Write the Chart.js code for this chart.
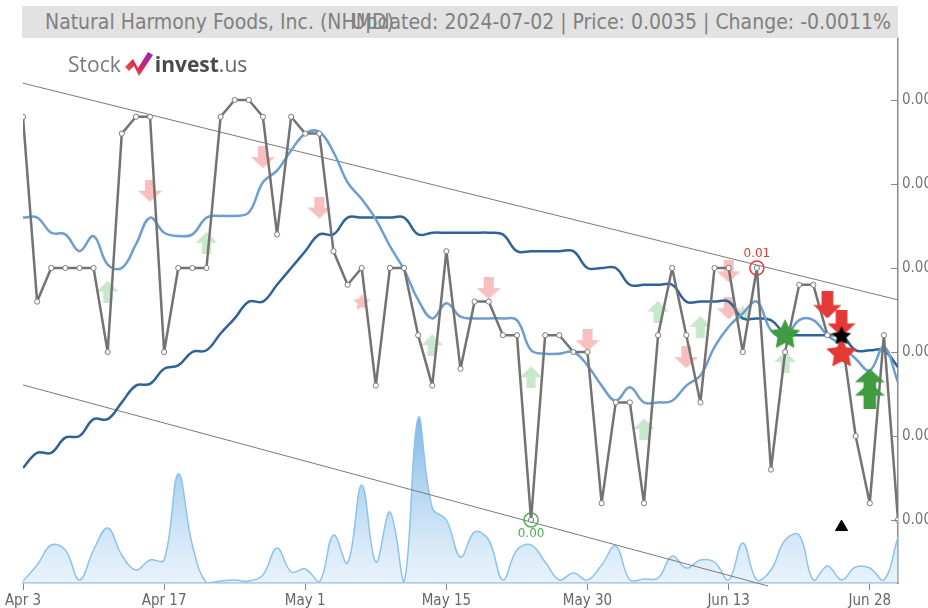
<!DOCTYPE html>
<html>
<head>
<meta charset="utf-8">
<script src="https://cdn.jsdelivr.net/npm/chart.js@4.4.1/dist/chart.umd.min.js"></script>
<style>
  html, body { margin: 0; padding: 0; background: #fff; }
  #wrap { position: relative; width: 928px; height: 608px; overflow: hidden; }
  #c { position: absolute; left: 0; top: 0; }
  #title { position: absolute; left: 22px; top: 6px; width: 876px; height: 32px; background: #e2e2e2;
           font-family: 'Liberation Sans Narrow', 'DejaVu Sans Condensed', sans-serif; font-size: 21px;
           color: #808080; line-height: 32px; }
  #title span { position: absolute; top: 0; white-space: nowrap; }
  #title .l { left: 23px; }
  #title .r { right: 7px; }
  #logo { position: absolute; left: 68px; top: 50px; height: 28px; font-family: 'Open Sans', sans-serif;
          font-size: 21px; line-height: 28px; white-space: nowrap; }
  #logo .s { color: #7a7a7a; }
  #logo .i { color: #4a4a4a; font-weight: bold; }
  #logo .u { color: #666; }
  #logo svg { vertical-align: -5px; margin: 0 1px 0 3px; }
</style>
</head>
<body>
<div id="wrap">
  <canvas id="c" width="928" height="608"></canvas>
  <div id="title"><span class="l">Natural Harmony Foods, Inc. (NHMD)</span><span class="r">Updated: 2024-07-02 | Price: 0.0035 | Change: -0.0011%</span></div>
  <div id="logo"><span class="s">Stock</span><svg width="30" height="26" viewBox="0 0 30 26">
    <defs><linearGradient id="lg" x1="0" y1="1" x2="1" y2="0"><stop offset="0" stop-color="#f07a28"/><stop offset="0.45" stop-color="#d8245a"/><stop offset="1" stop-color="#8b2bc9"/></linearGradient></defs>
    <polygon points="1,16 9,8 14,17 24,1 29,4 15,25 10,15 5,20" fill="url(#lg)"/>
  </svg><span class="i">invest</span><span class="u">.us</span></div>
</div>
<script>
//----------------------------------DATA-----------------------------------------------------------

const dates = ['Apr 3','Apr 4','Apr 5','Apr 8','Apr 9','Apr 10','Apr 11','Apr 12','Apr 15','Apr 16',
  'Apr 17','Apr 18','Apr 19','Apr 22','Apr 23','Apr 24','Apr 25','Apr 26','Apr 29','Apr 30',
  'May 1','May 2','May 3','May 6','May 7','May 8','May 9','May 10','May 13','May 14',
  'May 15','May 16','May 17','May 20','May 21','May 22','May 23','May 24','May 28','May 29',
  'May 30','May 31','Jun 3','Jun 4','Jun 5','Jun 6','Jun 7','Jun 10','Jun 11','Jun 12',
  'Jun 13','Jun 14','Jun 17','Jun 18','Jun 20','Jun 21','Jun 24','Jun 25','Jun 26','Jun 27',
  'Jun 28','Jul 1','Jul 2']

const closePrice = [0.0059,0.0048,0.0050,0.0050,0.0050,0.0050,0.0045,0.0058,0.0059,0.0059,
  0.0045,0.0050,0.0050,0.0050,0.0059,0.0060,0.0060,0.0059,0.0052,0.0059,
  0.0058,0.0058,0.0051,0.0049,0.0050,0.0043,0.0050,0.0050,0.0046,0.0043,
  0.0051,0.0044,0.0048,0.0048,0.0046,0.0046,0.0035,0.0046,0.0046,0.0045,
  0.0045,0.0036,0.0042,0.0042,0.0036,0.0046,0.0050,0.0046,0.0042,0.0050,
  0.0050,0.0045,0.0050,0.0038,0.0045,0.0049,0.0049,0.0046,0.0046,0.0040,
  0.0036,0.0046,0.0035]

const maShort = [0.00530,0.00530,0.00521,0.00520,0.00510,0.00519,0.00502,0.00500,0.00514,0.00530,
  0.00521,0.00519,0.00520,0.00530,0.00531,0.00531,0.00533,0.00551,0.00558,0.00570,
  0.00580,0.00581,0.00569,0.00551,0.00541,0.00529,0.00513,0.00499,0.00481,0.00470,
  0.00479,0.00471,0.00470,0.00470,0.00470,0.00469,0.00451,0.00449,0.00449,0.00450,
  0.00442,0.00430,0.00421,0.00429,0.00420,0.00420,0.00421,0.00430,0.00436,0.00453,
  0.00465,0.00473,0.00480,0.00463,0.00459,0.00469,0.00469,0.00460,0.00454,0.00446,
  0.00439,0.00453,0.00432]

const maLong = [0.00381,0.00390,0.00390,0.00399,0.00400,0.00410,0.00410,0.00420,0.00430,0.00431,
  0.00440,0.00442,0.00450,0.00451,0.00461,0.00470,0.00480,0.00480,0.00490,0.00500,
  0.00510,0.00520,0.00520,0.00530,0.00530,0.00530,0.00530,0.00530,0.00520,0.00521,
  0.00521,0.00521,0.00521,0.00521,0.00520,0.00510,0.00510,0.00510,0.00510,0.00510,
  0.00500,0.00500,0.00500,0.00490,0.00490,0.00490,0.00490,0.00480,0.00480,0.00480,
  0.00480,0.00470,0.00470,0.00469,0.00461,0.00460,0.00460,0.00460,0.00460,0.00451,
  0.00451,0.00451,0.00441]

// volume in millions of shares
const volume = [0.4,3.6,7.6,6.6,0.6,6.6,11,5.6,2.6,4.6,
  4.6,21.8,7.6,0,0.4,0.6,0.4,1.6,7,2.2,
  2.8,0.2,9.6,4,19.6,4.2,14.2,0.2,33,15,
  12.6,5.2,10.2,8.6,0.6,6.6,7.6,4.2,0.6,2,
  0.6,3.6,7.4,0.6,0.8,1,5.4,3,4.6,4.2,
  0.6,8,0.6,2.6,8.6,9.6,0.6,3.4,0.6,3.2,
  3,0.6,9.2]

const yTicks = [0.0035,0.004,0.0045,0.005,0.0055,0.006]
const xTickIdx = [0,10,20,30,40,50,60]

// trend channel ends [index, price]
const trendUpper = [[0,0.0061],[62,0.00481]]
const trendLower = [[0,0.004304],[52.8,0.003107]]

// signal markers [index, price]
const buyFaint = [[6,0.00486],[13,0.00515],[29,0.00454],[36,0.00435],[44,0.00404],[45,0.00474],[48,0.00465],[54,0.00444]]
const sellFaint = [[9,0.00546],[17,0.00566],[21,0.00536],[33,0.00488],[40,0.00457],[47,0.00447],[50,0.00498],[50,0.00476]]
const sellStarFaint = [[24,0.00480]]
const buyStarFaint = [[51,0.00473]]
const buyStar = [[54,0.00461]]
const buyArrows = [[60,0.00432],[60,0.00424]]
const sellArrows = [[57,0.00478],[58,0.00467]]
const sellStar = [[58,0.00450]]
const blackStar = [[58,0.00460]]
const blackTriangle = [[58,0.003458]]
const lowMark = [[36,0.0035]]
const highMark = [[52,0.0050]]

//----------------------------------SHAPES-----------------------------------------------------------

function makeArrow(color, w, h, down){
    let c = document.createElement('canvas')
    c.width = w; c.height = h
    let g = c.getContext('2d')
    if(down){ g.translate(0, h); g.scale(1, -1) }
    let head = h * 0.5, sh = w * 0.42
    g.fillStyle = color
    g.beginPath()
    g.moveTo(w/2, 0); g.lineTo(w, head); g.lineTo(w/2 + sh/2, head); g.lineTo(w/2 + sh/2, h)
    g.lineTo(w/2 - sh/2, h); g.lineTo(w/2 - sh/2, head); g.lineTo(0, head)
    g.closePath(); g.fill()
    return c
}

function makeStar(color, r){
    let c = document.createElement('canvas')
    c.width = c.height = Math.ceil(r * 2 + 2)
    let g = c.getContext('2d')
    let cx = c.width / 2, cy = c.height / 2 + r * 0.1
    g.fillStyle = color
    g.beginPath()
    for(let k = 0; k < 10; k++){
        let rr = k % 2 ? r * 0.5 : r
        let a = -Math.PI / 2 + k * Math.PI / 5
        g.lineTo(cx + rr * Math.cos(a), cy + rr * Math.sin(a))
    }
    g.closePath(); g.fill()
    return c
}

const toPts = (arr) => arr.map(p => ({x: p[0], y: p[1]}))
const series = (arr) => arr.map((v, i) => ({x: i, y: v}))

function marker(pairs, style){
    return {data: toPts(pairs), showLine: false, pointStyle: style, pointRadius: 10, pointHoverRadius: 10, yAxisID: 'y'}
}

//----------------------------------CHART-----------------------------------------------------------

const extraDraw = {
    id: 'extraDraw',
    afterDraw(chart){
        let ctx = chart.ctx
        let y = chart.scales.y
        ctx.save()
        ctx.strokeStyle = '#8a8a8a'
        ctx.lineWidth = 1
        y.ticks.forEach(t => {
            let py = Math.round(y.getPixelForValue(t.value)) + 0.5
            ctx.beginPath(); ctx.moveTo(y.left - 7, py); ctx.lineTo(y.left, py); ctx.stroke()
        })
        ctx.font = '12px "DejaVu Sans", sans-serif'
        ctx.textAlign = 'center'
        let lo = chart.getDatasetMeta(7).data[0]
        ctx.fillStyle = '#4caf50'
        ctx.textBaseline = 'top'
        ctx.fillText(lowMark[0][1].toFixed(2), lo.x, lo.y + 8)
        let hi = chart.getDatasetMeta(8).data[0]
        ctx.fillStyle = '#e53935'
        ctx.textBaseline = 'bottom'
        ctx.fillText(highMark[0][1].toFixed(2), hi.x, hi.y - 8)
        ctx.restore()
    }
}

const tickFont = {family: "'Liberation Sans Narrow', 'DejaVu Sans Condensed', sans-serif", size: 15}

new Chart(document.getElementById('c'), {
    type: 'line',
    data: {
        datasets: [
            marker(blackStar, makeStar('#000', 10)),
            {...marker(blackTriangle, 'triangle'), pointRadius: 7, pointBackgroundColor: '#000', pointBorderColor: '#000'},
            marker(sellStar, makeStar('#e53935', 16)),
            marker(sellArrows, makeArrow('#e53935', 28, 27, true)),
            marker(buyStar, makeStar('#3f9c3f', 16)),
            marker(buyArrows, makeArrow('#3f9c3f', 30, 27, false)),
            {data: series(closePrice), borderColor: '#737373', borderWidth: 2.5, tension: 0, borderJoinStyle: 'round',
             pointRadius: 2.6, pointBackgroundColor: '#fff', pointBorderColor: '#7a7a7a', pointBorderWidth: 1, yAxisID: 'y'},
            {...marker(lowMark, 'circle'), pointRadius: 7, pointBackgroundColor: 'rgba(0,0,0,0)', pointBorderColor: '#4caf50', pointBorderWidth: 1.5},
            {...marker(highMark, 'circle'), pointRadius: 7, pointBackgroundColor: 'rgba(0,0,0,0)', pointBorderColor: '#e53935', pointBorderWidth: 1.5},
            {data: series(maShort), borderColor: '#6c9ed0', borderWidth: 2.5, tension: 0.4, pointRadius: 0, yAxisID: 'y'},
            {data: series(maLong), borderColor: '#2e6399', borderWidth: 2.5, tension: 0.4, pointRadius: 0, yAxisID: 'y'},
            marker(buyFaint, makeArrow('rgba(76,175,80,0.3)', 22, 22, false)),
            marker(sellFaint, makeArrow('rgba(229,57,53,0.32)', 24, 22, true)),
            marker(sellStarFaint, makeStar('rgba(229,57,53,0.32)', 9)),
            marker(buyStarFaint, makeStar('rgba(76,175,80,0.3)', 9)),
            {data: toPts(trendUpper), borderColor: '#7a7a7a', borderWidth: 1, pointRadius: 0, yAxisID: 'y'},
            {data: toPts(trendLower), borderColor: '#7a7a7a', borderWidth: 1, pointRadius: 0, yAxisID: 'y', clip: false},
            {data: series(volume), yAxisID: 'yVol', borderColor: '#8cc3ea', borderWidth: 1.5, tension: 0.4, pointRadius: 0, fill: 'origin',
             backgroundColor: (c) => {
                 let ch = c.chart
                 if(!ch.chartArea) return 'rgba(140,195,235,0.4)'
                 let s = ch.scales.yVol
                 let g = ch.ctx.createLinearGradient(0, s.getPixelForValue(Math.max(...volume)), 0, s.getPixelForValue(0))
                 g.addColorStop(0, 'rgba(95,165,225,0.8)')
                 g.addColorStop(1, 'rgba(205,228,248,0.45)')
                 return g
             }}
        ]
    },
    options: {
        responsive: false,
        animation: false,
        devicePixelRatio: 1,
        layout: {padding: {top: 38, left: 23, right: 0, bottom: 0}},
        plugins: {legend: {display: false}, tooltip: {enabled: false}},
        scales: {
            x: {
                type: 'linear', min: 0, max: dates.length - 1,
                afterBuildTicks: (s) => { s.ticks = xTickIdx.map(v => ({value: v})) },
                afterFit: (s) => { s.height = 25 },
                ticks: {callback: (v) => dates[v], color: '#666', font: tickFont, maxRotation: 0, autoSkip: false, padding: 2},
                grid: {drawOnChartArea: false, drawTicks: true, tickLength: 7, tickColor: '#888'},
                border: {color: '#8fbbe0', width: 1.5}
            },
            y: {
                position: 'right', min: 0.003125, max: 0.006369,
                afterBuildTicks: (s) => { s.ticks = yTicks.map(v => ({value: v})) },
                afterFit: (s) => { s.width = 30 },
                ticks: {callback: (v) => v.toFixed(4), color: '#777', font: tickFont, padding: 4},
                grid: {drawOnChartArea: false, drawTicks: false},
                border: {color: '#8a8a8a', width: 1.5}
            },
            yVol: {display: false, min: 0, max: 109}
        }
    },
    plugins: [extraDraw]
})
</script>
</body>
</html>
